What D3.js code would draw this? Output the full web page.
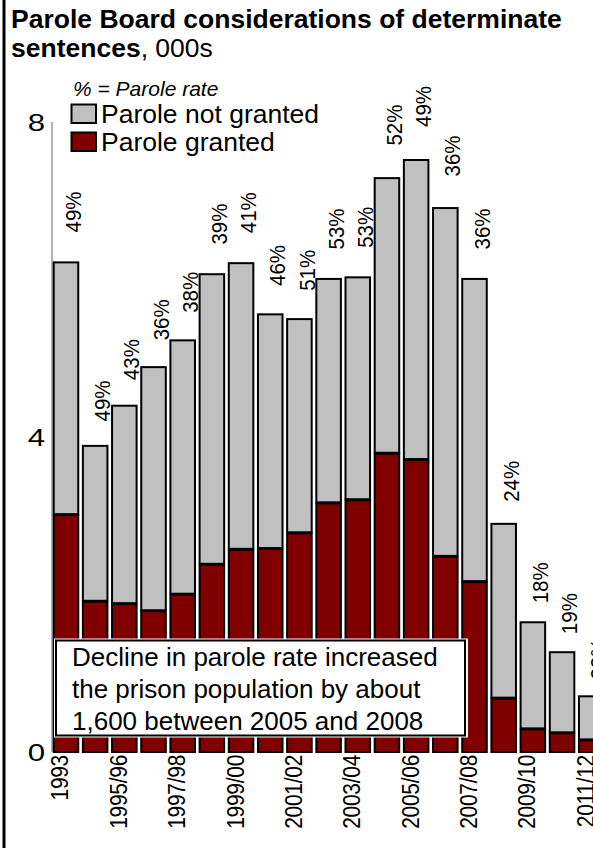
<!DOCTYPE html>
<html>
<head>
<meta charset="utf-8">
<script src="https://cdn.jsdelivr.net/npm/d3@7"></script>
<style>
  html, body { margin: 0; padding: 0; background: #fff; }
  svg { display: block; font-family: "Liberation Sans", Arial, Helvetica, sans-serif; }
</style>
</head>
<body>
<svg id="chart" width="593" height="848"></svg>
<script>
// ---- data ----
const categories = ["1993","1994/95","1995/96","1996/97","1997/98","1998/99","1999/00","2000/01","2001/02","2002/03","2003/04","2004/05","2005/06","2006/07","2007/08","2008/09","2009/10","2010/11","2011/12"];
const granted    = [3.02,1.92,1.89,1.80,2.01,2.39,2.58,2.59,2.79,3.17,3.21,3.80,3.72,2.49,2.17,0.69,0.30,0.25,0.16];
const notGranted = [3.21,1.98,2.52,3.10,3.23,3.69,3.64,2.98,2.72,2.85,2.83,3.50,3.81,4.43,3.85,2.22,1.36,1.03,0.56];
const rateLabels = ["49%","49%","43%","36%","38%","39%","41%","46%","51%","53%","53%","52%","49%","36%","36%","24%","18%","19%","22%"];
const xTickLabels = ["1993","1995/96","1997/98","1999/00","2001/02","2003/04","2005/06","2007/08","2009/10","2011/12"];
const yTicks = [0, 4, 8];
const seriesKeys = ["granted", "notGranted"];
const seriesNames = {granted: "Parole granted", notGranted: "Parole not granted"};
const colors = {granted: "#800000", notGranted: "#c0c0c0"};
const titleBold1 = "Parole Board considerations of determinate";
const titleBold2 = "sentences";
const titleRest2 = ", 000s";
const legendNote = "% = Parole rate";
const noteLines = ["Decline in parole rate increased", "the prison population by about", "1,600 between 2005 and 2008"];

// ---- build ----
const rows = categories.map((c, i) => ({cat: c, granted: granted[i], notGranted: notGranted[i], rate: rateLabels[i]}));
const svg = d3.select("#chart");

const y = d3.scaleLinear().domain([0, 8]).range([752, 122]);
const x = d3.scaleBand().domain(categories).range([52.7, 604.5]).paddingInner(0.09).paddingOuter(0);
const bw = x.bandwidth();

// left frame line
svg.append("rect").attr("x", 2.5).attr("y", 0).attr("width", 3).attr("height", 848).attr("fill", "#000");

// title
svg.append("text").attr("x", 11).attr("y", 28).attr("font-size", 26.5).attr("font-weight", "bold").text(titleBold1);
const t2 = svg.append("text").attr("x", 11).attr("y", 57).attr("font-size", 26.5);
t2.append("tspan").attr("font-weight", "bold").text(titleBold2);
t2.append("tspan").text(titleRest2);

// y axis line
svg.append("line").attr("x1", 52).attr("x2", 52).attr("y1", y(8)).attr("y2", y(0))
  .attr("stroke", "#666").attr("stroke-width", 1);

// y tick labels
svg.append("g").selectAll("text").data(yTicks).join("text")
  .attr("transform", d => `translate(45,${y(d)}) scale(1.3,1)`)
  .attr("text-anchor", "end").attr("dy", "0.36em").attr("font-size", 24)
  .text(d => d);

// stacked bars
const stack = d3.stack().keys(seriesKeys)(rows);
const gBars = svg.append("g");
stack.slice().reverse().forEach(layer => {
  gBars.append("g").selectAll("rect").data(layer).join("rect")
    .attr("x", d => x(d.data.cat) + 1)
    .attr("width", bw - 2)
    .attr("y", d => y(d[1]) + 1)
    .attr("height", d => Math.max(0, y(d[0]) - y(d[1]) - 1))
    .attr("fill", colors[layer.key])
    .attr("stroke", "#000").attr("stroke-width", 2);
});

// rate labels
svg.append("g").selectAll("text").data(rows).join("text")
  .attr("transform", d => {
    const tot = d.granted + d.notGranted;
    return `translate(${x(d.cat) + bw / 2 + 7},${y(tot) - (14 + 2.4 * tot)}) rotate(-90) scale(1,1.1)`;
  })
  .attr("text-anchor", "start").attr("dy", "0.36em").attr("font-size", 20.5)
  .text(d => d.rate);

// x tick labels
svg.append("g").selectAll("text").data(xTickLabels).join("text")
  .attr("transform", d => `translate(${x(d) + bw / 2 - 6},755) rotate(-90) scale(1,1.12)`)
  .attr("text-anchor", "end").attr("dy", "0.36em").attr("font-size", 21)
  .attr("letter-spacing", -0.3)
  .text(d => d);

// legend
svg.append("text").attr("x", 73).attr("y", 96).attr("font-size", 21).attr("font-style", "italic").text(legendNote);
const legendOrder = ["notGranted", "granted"];
const lg = svg.append("g").selectAll("g").data(legendOrder).join("g")
  .attr("transform", (d, i) => `translate(0,${i * 28})`);
lg.append("rect").attr("x", 71.5).attr("y", 104.5).attr("width", 24.5).attr("height", 18.5)
  .attr("fill", d => colors[d]).attr("stroke", "#000").attr("stroke-width", 2);
lg.append("text").attr("x", 101).attr("y", 123).attr("font-size", 26.5).text(d => seriesNames[d]);

// annotation box
svg.append("rect").attr("x", 54).attr("y", 638.5).attr("width", 414).attr("height", 99).attr("fill", "#fff");
svg.append("rect").attr("x", 56).attr("y", 640.5).attr("width", 409).attr("height", 95)
  .attr("fill", "#fff").attr("stroke", "#000").attr("stroke-width", 2);
svg.append("g").selectAll("text").data(noteLines).join("text")
  .attr("x", 72).attr("y", (d, i) => 666 + i * 32).attr("font-size", 26).text(d => d);
</script>
</body>
</html>
